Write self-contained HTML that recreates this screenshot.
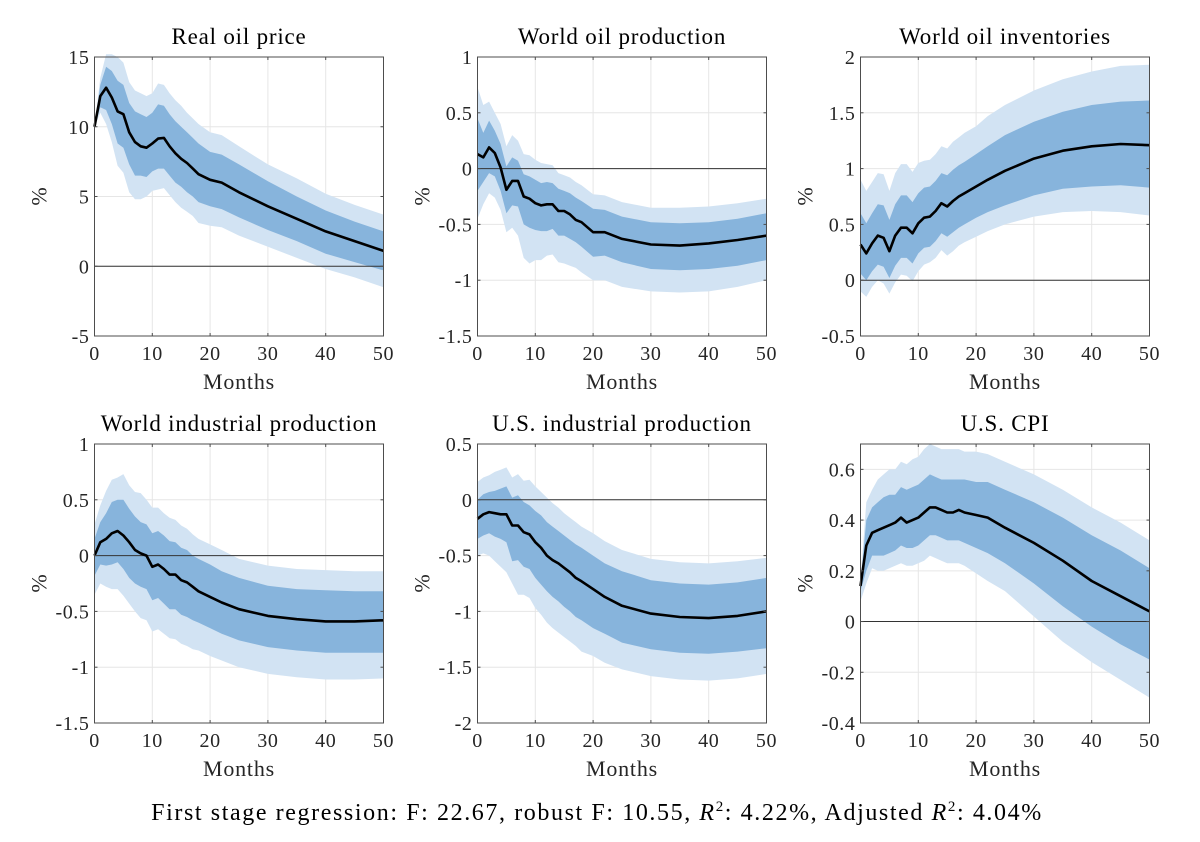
<!DOCTYPE html>
<html><head><meta charset="utf-8"><style>
html,body{margin:0;padding:0;background:#fff;}
svg{display:block;font-family:"Liberation Serif",serif;}
</style></head><body>
<svg id="fig" width="1200" height="842" viewBox="0 0 1200 842" xmlns="http://www.w3.org/2000/svg">
<text x="597" y="820" text-anchor="middle" font-size="24" letter-spacing="1.6" fill="#000">First stage regression: F: 22.67, robust F: 10.55, <tspan font-style="italic">R</tspan><tspan font-size="15" dy="-9">2</tspan><tspan dy="9">: 4.22%, Adjusted </tspan><tspan font-style="italic">R</tspan><tspan font-size="15" dy="-9">2</tspan><tspan dy="9">: 4.04%</tspan></text>
</svg>
<script>
const months=[0,1,2,3,4,5,6,7,8,9,10,11,12,13,14,15,16,17,18,20,22,25,30,35,40,45,50];
const titles=["Real oil price","World oil production","World oil inventories","World industrial production","U.S. industrial production","U.S. CPI"];
const yLims=[[-5,15],[-1.5,1],[-0.5,2],[-1.5,1],[-2,0.5],[-0.4,0.7]];
const yTickLabels=[["-5","0","5","10","15"],["-1.5","-1","-0.5","0","0.5","1"],["-0.5","0","0.5","1","1.5","2"],["-1.5","-1","-0.5","0","0.5","1"],["-2","-1.5","-1","-0.5","0","0.5"],["-0.4","-0.2","0","0.2","0.4","0.6"]];
const xTickLabels=["0","10","20","30","40","50"];

const oilPriceMean=[10,12.2,12.8,12.1,11.1,10.9,9.6,8.9,8.6,8.5,8.8,9.15,9.2,8.6,8.1,7.7,7.4,7.0,6.6,6.2,6.0,5.3,4.3,3.4,2.5,1.8,1.1];
const oilPriceIn68Hi=[10,13.0,14.3,14.0,13.3,13.0,11.7,11.1,10.9,10.7,11.0,11.6,11.5,10.9,10.4,10.0,9.6,9.2,8.8,8.2,8.0,7.3,6.1,5.0,4.0,3.2,2.5];
const oilPriceIn68Lo=[10,11.4,11.2,10.2,8.8,8.5,7.3,6.5,6.5,6.4,6.8,7.0,7.0,6.5,6.0,5.7,5.3,5.0,4.6,4.3,4.1,3.5,2.6,1.8,0.9,0.3,-0.3];
const oilPriceOut90Hi=[10,13.5,15.2,15.2,15.0,14.6,13.2,12.6,12.4,12.2,12.4,13.1,13.0,12.4,11.9,11.5,11.0,10.6,10.2,9.6,9.4,8.6,7.3,6.3,5.2,4.4,3.7];
const oilPriceOut90Lo=[10,11.0,10.2,8.9,7.2,6.7,5.3,4.8,4.8,5.0,5.4,5.5,5.6,5.1,4.6,4.2,3.9,3.6,3.1,2.9,2.8,2.2,1.4,0.6,-0.2,-0.8,-1.5];

const oilProdMean=[0.13,0.1,0.19,0.14,0.01,-0.19,-0.11,-0.11,-0.25,-0.27,-0.31,-0.33,-0.32,-0.32,-0.38,-0.38,-0.41,-0.46,-0.48,-0.57,-0.57,-0.63,-0.68,-0.69,-0.67,-0.64,-0.6];
const oilProdIn68Hi=[0.45,0.32,0.43,0.34,0.22,0.02,0.1,0.07,-0.05,-0.07,-0.1,-0.13,-0.12,-0.13,-0.18,-0.2,-0.22,-0.26,-0.29,-0.36,-0.37,-0.43,-0.48,-0.49,-0.48,-0.45,-0.4];
const oilProdIn68Lo=[-0.2,-0.12,-0.04,-0.07,-0.2,-0.4,-0.33,-0.34,-0.5,-0.53,-0.55,-0.56,-0.56,-0.54,-0.6,-0.6,-0.63,-0.66,-0.7,-0.79,-0.78,-0.84,-0.9,-0.91,-0.9,-0.87,-0.82];
const oilProdOut90Hi=[0.73,0.57,0.6,0.5,0.4,0.2,0.3,0.25,0.13,0.12,0.08,0.05,0.04,0.03,-0.04,-0.06,-0.08,-0.12,-0.15,-0.23,-0.24,-0.3,-0.35,-0.35,-0.34,-0.31,-0.27];
const oilProdOut90Lo=[-0.45,-0.32,-0.22,-0.26,-0.37,-0.57,-0.53,-0.6,-0.8,-0.85,-0.82,-0.82,-0.78,-0.77,-0.84,-0.85,-0.87,-0.89,-0.93,-1.0,-1.0,-1.06,-1.1,-1.11,-1.1,-1.06,-1.0];

const invMean=[0.32,0.24,0.33,0.4,0.38,0.26,0.4,0.47,0.47,0.42,0.51,0.56,0.57,0.62,0.69,0.66,0.71,0.75,0.78,0.84,0.9,0.98,1.09,1.16,1.2,1.22,1.21];
const invIn68Hi=[0.6,0.51,0.6,0.68,0.67,0.54,0.68,0.76,0.76,0.7,0.78,0.83,0.84,0.89,0.96,0.94,0.99,1.03,1.06,1.13,1.2,1.3,1.42,1.51,1.57,1.6,1.61];
const invIn68Lo=[0.06,0.0,0.08,0.14,0.12,0.02,0.13,0.2,0.2,0.15,0.24,0.29,0.3,0.35,0.42,0.39,0.43,0.47,0.5,0.56,0.61,0.67,0.76,0.82,0.84,0.85,0.83];
const invOut90Hi=[0.9,0.8,0.88,0.96,0.95,0.8,0.96,1.04,1.04,0.97,1.05,1.07,1.08,1.13,1.2,1.18,1.24,1.28,1.32,1.38,1.47,1.57,1.7,1.8,1.87,1.92,1.93];
const invOut90Lo=[-0.1,-0.15,-0.06,0.0,-0.03,-0.12,-0.02,0.05,0.04,-0.01,0.08,0.14,0.16,0.2,0.27,0.22,0.26,0.31,0.34,0.39,0.44,0.5,0.57,0.61,0.62,0.61,0.58];

const wipMean=[0,0.12,0.15,0.2,0.22,0.18,0.12,0.05,0.02,0.0,-0.1,-0.08,-0.12,-0.17,-0.17,-0.22,-0.24,-0.28,-0.32,-0.37,-0.42,-0.48,-0.54,-0.57,-0.59,-0.59,-0.58];
const wipIn68Hi=[0.15,0.3,0.38,0.48,0.5,0.5,0.42,0.35,0.3,0.28,0.2,0.22,0.18,0.13,0.12,0.07,0.05,0.0,-0.03,-0.08,-0.14,-0.2,-0.27,-0.3,-0.31,-0.32,-0.32];
const wipIn68Lo=[-0.18,-0.08,-0.09,-0.08,-0.06,-0.12,-0.2,-0.25,-0.28,-0.3,-0.4,-0.38,-0.43,-0.48,-0.48,-0.53,-0.55,-0.58,-0.6,-0.65,-0.7,-0.76,-0.82,-0.85,-0.87,-0.87,-0.87];
const wipOut90Hi=[0.28,0.45,0.58,0.68,0.7,0.73,0.63,0.57,0.56,0.5,0.43,0.43,0.38,0.34,0.32,0.27,0.24,0.19,0.15,0.1,0.05,-0.03,-0.09,-0.12,-0.13,-0.14,-0.14];
const wipOut90Lo=[-0.35,-0.25,-0.28,-0.3,-0.3,-0.36,-0.43,-0.5,-0.56,-0.58,-0.68,-0.66,-0.7,-0.74,-0.75,-0.79,-0.81,-0.84,-0.85,-0.9,-0.94,-1.0,-1.06,-1.09,-1.11,-1.11,-1.1];

const usipMean=[-0.17,-0.13,-0.11,-0.12,-0.13,-0.13,-0.23,-0.23,-0.29,-0.31,-0.38,-0.43,-0.5,-0.54,-0.57,-0.61,-0.65,-0.7,-0.73,-0.8,-0.87,-0.95,-1.02,-1.05,-1.06,-1.04,-1.0];
const usipIn68Hi=[0.0,0.05,0.07,0.08,0.1,0.12,0.02,0.04,-0.02,-0.05,-0.1,-0.14,-0.2,-0.24,-0.28,-0.32,-0.36,-0.4,-0.43,-0.5,-0.57,-0.64,-0.72,-0.75,-0.76,-0.74,-0.7];
const usipIn68Lo=[-0.35,-0.32,-0.3,-0.33,-0.35,-0.38,-0.55,-0.54,-0.6,-0.62,-0.7,-0.76,-0.82,-0.87,-0.91,-0.96,-1.0,-1.05,-1.08,-1.15,-1.2,-1.28,-1.34,-1.37,-1.38,-1.36,-1.33];
const usipOut90Hi=[0.16,0.2,0.22,0.25,0.27,0.29,0.2,0.23,0.17,0.18,0.12,0.07,0.02,-0.03,-0.07,-0.12,-0.16,-0.2,-0.24,-0.3,-0.37,-0.45,-0.53,-0.56,-0.57,-0.55,-0.52];
const usipOut90Lo=[-0.5,-0.48,-0.5,-0.55,-0.6,-0.65,-0.75,-0.85,-0.85,-0.88,-0.97,-1.03,-1.1,-1.15,-1.19,-1.23,-1.27,-1.31,-1.36,-1.4,-1.46,-1.52,-1.58,-1.61,-1.62,-1.6,-1.56];

const cpiMean=[0.14,0.3,0.35,0.36,0.37,0.38,0.39,0.41,0.39,0.4,0.41,0.43,0.45,0.45,0.44,0.43,0.43,0.44,0.43,0.42,0.41,0.37,0.31,0.24,0.16,0.1,0.04];
const cpiIn68Hi=[0.15,0.4,0.45,0.47,0.49,0.5,0.5,0.53,0.52,0.53,0.54,0.56,0.58,0.57,0.56,0.56,0.56,0.56,0.56,0.55,0.55,0.52,0.47,0.41,0.34,0.28,0.21];
const cpiIn68Lo=[0.12,0.2,0.26,0.26,0.26,0.27,0.28,0.3,0.29,0.29,0.3,0.32,0.34,0.34,0.33,0.32,0.32,0.32,0.31,0.29,0.27,0.23,0.15,0.06,-0.02,-0.09,-0.15];
const cpiOut90Hi=[0.16,0.47,0.52,0.56,0.58,0.6,0.6,0.63,0.62,0.64,0.65,0.68,0.7,0.69,0.68,0.68,0.68,0.68,0.67,0.67,0.66,0.63,0.58,0.52,0.45,0.39,0.32];
const cpiOut90Lo=[0.08,0.15,0.21,0.2,0.2,0.21,0.22,0.23,0.22,0.22,0.23,0.24,0.26,0.25,0.24,0.23,0.23,0.23,0.22,0.19,0.16,0.12,0.02,-0.08,-0.16,-0.23,-0.3];

const panels=[
 [oilPriceMean,oilPriceIn68Hi,oilPriceIn68Lo,oilPriceOut90Hi,oilPriceOut90Lo],
 [oilProdMean,oilProdIn68Hi,oilProdIn68Lo,oilProdOut90Hi,oilProdOut90Lo],
 [invMean,invIn68Hi,invIn68Lo,invOut90Hi,invOut90Lo],
 [wipMean,wipIn68Hi,wipIn68Lo,wipOut90Hi,wipOut90Lo],
 [usipMean,usipIn68Hi,usipIn68Lo,usipOut90Hi,usipOut90Lo],
 [cpiMean,cpiIn68Hi,cpiIn68Lo,cpiOut90Hi,cpiOut90Lo]
];

const NS="http://www.w3.org/2000/svg";
const svg=document.getElementById('fig');
function mk(tag,attrs,parent){const e=document.createElementNS(NS,tag);for(const k in attrs)e.setAttribute(k,attrs[k]);(parent||svg).appendChild(e);return e;}
const lefts=[94.5,477.5,860.5], tops=[57,444], W=289, H=279;
const slugs=["real-oil-price","world-oil-production","world-oil-inventories","world-industrial-production","us-industrial-production","us-cpi"];

panels.forEach((p,i)=>{
  const L=lefts[i%3], T=tops[Math.floor(i/3)];
  const [y0,y1]=yLims[i];
  const xs=m=>L+m/50*W;
  const ys=v=>T+(y1-v)/(y1-y0)*H;
  const g=mk('g',{});
  
  
  xTickLabels.forEach(t=>{const x=xs(+t);
    const l=mk('line',{x1:x,x2:x,y1:T,y2:T+H,stroke:'#e6e6e6','stroke-width':1},g);
    
    
  });
  yTickLabels[i].forEach(t=>{const y=ys(+t);
    const l=mk('line',{x1:L,x2:L+W,y1:y,y2:y,stroke:'#e6e6e6','stroke-width':1},g);
    
    
  });
  function band(hi,lo,color,name){
    let d='';
    months.forEach((m,k)=>{d+=(k?'L':'M')+xs(m).toFixed(1)+','+ys(hi[k]).toFixed(1);});
    for(let k=months.length-1;k>=0;k--){d+='L'+xs(months[k]).toFixed(1)+','+ys(lo[k]).toFixed(1);}
    const e=mk('path',{d:d+'Z',fill:color,stroke:'none'},g);
    
    
  }
  band(p[3],p[4],'#d2e3f3','band-90');
  band(p[1],p[2],'#87b4dc','band-68');
  const z=mk('line',{x1:L,x2:L+W,y1:ys(0),y2:ys(0),stroke:'#333','stroke-width':1},g);
  
  
  let d='';months.forEach((m,k)=>{d+=(k?'L':'M')+xs(m).toFixed(1)+','+ys(p[0][k]).toFixed(1);});
  const ln=mk('path',{d:d,fill:'none',stroke:'#000','stroke-width':2.6,'stroke-linejoin':'round'},g);
  
  
  const fr=mk('rect',{x:L,y:T,width:W,height:H,fill:'none',stroke:'#4d4d4d','stroke-width':1},g);
  
  
  xTickLabels.forEach(t=>{const x=xs(+t);
    mk('line',{x1:x,x2:x,y1:T+H,y2:T+H-3,stroke:'#4d4d4d'},g);
    mk('line',{x1:x,x2:x,y1:T,y2:T+3,stroke:'#4d4d4d'},g);
    const tx=mk('text',{x:x,y:T+H+24,'text-anchor':'middle','font-size':20,'letter-spacing':0.6,fill:'#262626'},g);
    tx.textContent=t;
    
    
  });
  yTickLabels[i].forEach(t=>{const y=ys(+t);
    mk('line',{x1:L,x2:L+3,y1:y,y2:y,stroke:'#4d4d4d'},g);
    mk('line',{x1:L+W,x2:L+W-3,y1:y,y2:y,stroke:'#4d4d4d'},g);
    const tx=mk('text',{x:L-5,y:y+7,'text-anchor':'end','font-size':20,'letter-spacing':0.6,fill:'#262626'},g);
    tx.textContent=t;
    
    
  });
  const ti=mk('text',{x:L+W/2,y:T-13,'text-anchor':'middle','font-size':23,'letter-spacing':0.8,fill:'#000'},g);
  ti.textContent=titles[i];
  
  
  const xl=mk('text',{x:L+W/2,y:T+H+53,'text-anchor':'middle','font-size':22,'letter-spacing':0.8,fill:'#262626'},g);
  xl.textContent='Months';
  
  
  const yx=L-48, yy=T+H/2;
  const yl=mk('text',{x:yx,y:yy,'text-anchor':'middle','font-size':22,fill:'#262626',transform:'rotate(-90 '+yx+' '+yy+')'},g);
  yl.textContent='%';
  
  
});
</script>
</body></html>
